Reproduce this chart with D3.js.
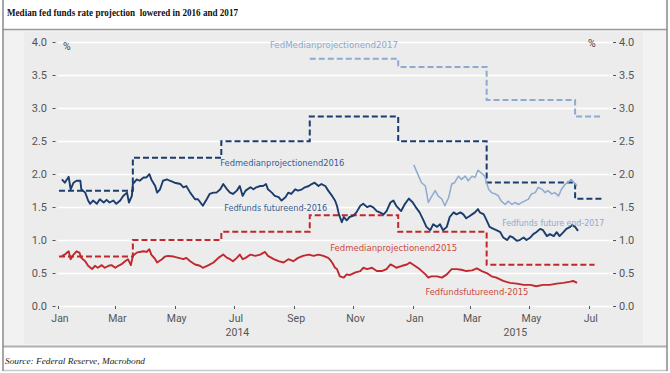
<!DOCTYPE html>
<html><head><meta charset="utf-8">
<script src="https://cdn.jsdelivr.net/npm/d3@7"></script>
<style>body{margin:0;background:#fff} svg{display:block}</style>
</head><body><svg id="c" width="670" height="373"></svg>
<script>
// ---------- DATA ----------
const titleText = "Median fed funds rate projection  lowered in 2016 and 2017";
const sourceText = "Source: Federal Reserve, Macrobond";
const yTicks = [0, 0.5, 1.0, 1.5, 2.0, 2.5, 3.0, 3.5, 4.0];
const xTickDates = ["2014-01-01","2014-03-01","2014-05-01","2014-07-01","2014-09-01","2014-11-01","2015-01-01","2015-03-01","2015-05-01","2015-07-01"];
const xTickLabels = ["Jan","Mar","May","Jul","Sep","Nov","Jan","Mar","May","Jul"];
const yearLabels = ["2014","2015"];
const xDomain = ["2014-01-01","2015-07-27"];

// Fed median projections (step series)
const proj2017 = [["2014-09-17",3.75],["2014-12-17",3.625],["2015-03-18",3.125],["2015-06-17",2.875],["2015-07-15",2.875]];
const proj2016 = [["2014-01-02",1.75],["2014-03-19",2.25],["2014-06-18",2.5],["2014-09-17",2.875],["2014-12-17",2.5],["2015-03-18",1.875],["2015-06-17",1.625],["2015-07-15",1.625]];
const proj2015 = [["2014-01-02",0.75],["2014-03-19",1.0],["2014-06-18",1.125],["2014-09-17",1.375],["2014-12-17",1.125],["2015-03-18",0.625],["2015-06-17",0.625],["2015-07-07",0.625]];

// Fed funds futures implied rates
const fut2016 = [["2014-01-05",1.92],["2014-01-08",1.87],["2014-01-12",1.96],["2014-01-14",1.77],["2014-01-17",1.87],["2014-01-20",1.90],["2014-01-24",1.90],["2014-01-25",1.77],["2014-01-29",1.72],["2014-02-01",1.60],["2014-02-03",1.55],["2014-02-06",1.60],["2014-02-10",1.55],["2014-02-13",1.62],["2014-02-17",1.57],["2014-02-20",1.61],["2014-02-23",1.57],["2014-02-27",1.60],["2014-03-02",1.55],["2014-03-06",1.60],["2014-03-09",1.67],["2014-03-13",1.72],["2014-03-15",1.57],["2014-03-18",1.67],["2014-03-19",1.85],["2014-03-23",1.92],["2014-03-26",1.90],["2014-03-30",1.95],["2014-04-02",1.95],["2014-04-05",2.00],["2014-04-07",1.92],["2014-04-11",1.82],["2014-04-13",1.72],["2014-04-16",1.77],["2014-04-19",1.90],["2014-04-23",1.92],["2014-04-26",1.90],["2014-05-01",1.87],["2014-05-07",1.85],["2014-05-10",1.80],["2014-05-13",1.82],["2014-05-17",1.72],["2014-05-22",1.62],["2014-05-25",1.62],["2014-05-30",1.52],["2014-06-03",1.62],["2014-06-06",1.70],["2014-06-10",1.72],["2014-06-13",1.72],["2014-06-17",1.77],["2014-06-20",1.85],["2014-06-24",1.77],["2014-06-27",1.72],["2014-06-30",1.70],["2014-07-04",1.75],["2014-07-07",1.82],["2014-07-10",1.67],["2014-07-13",1.75],["2014-07-18",1.80],["2014-07-21",1.77],["2014-07-24",1.80],["2014-07-28",1.82],["2014-07-31",1.82],["2014-08-03",1.85],["2014-08-05",1.77],["2014-08-09",1.72],["2014-08-12",1.67],["2014-08-16",1.65],["2014-08-19",1.60],["2014-08-23",1.65],["2014-08-26",1.72],["2014-08-29",1.70],["2014-09-02",1.77],["2014-09-05",1.75],["2014-09-09",1.77],["2014-09-12",1.80],["2014-09-16",1.82],["2014-09-19",1.85],["2014-09-22",1.87],["2014-09-26",1.82],["2014-09-29",1.85],["2014-10-03",1.82],["2014-10-06",1.75],["2014-10-10",1.67],["2014-10-13",1.60],["2014-10-15",1.52],["2014-10-17",1.39],["2014-10-20",1.27],["2014-10-22",1.35],["2014-10-25",1.30],["2014-10-28",1.35],["2014-11-01",1.37],["2014-11-04",1.42],["2014-11-08",1.52],["2014-11-11",1.55],["2014-11-15",1.50],["2014-11-18",1.52],["2014-11-21",1.50],["2014-11-25",1.44],["2014-11-28",1.42],["2014-12-02",1.39],["2014-12-05",1.44],["2014-12-09",1.57],["2014-12-12",1.60],["2014-12-15",1.52],["2014-12-20",1.44],["2014-12-24",1.55],["2014-12-28",1.63],["2015-01-01",1.57],["2015-01-04",1.50],["2015-01-08",1.42],["2015-01-12",1.30],["2015-01-15",1.20],["2015-01-19",1.15],["2015-01-22",1.24],["2015-01-26",1.20],["2015-01-29",1.24],["2015-02-01",1.15],["2015-02-05",1.20],["2015-02-08",1.35],["2015-02-12",1.42],["2015-02-15",1.39],["2015-02-19",1.42],["2015-02-22",1.39],["2015-02-25",1.33],["2015-03-01",1.37],["2015-03-03",1.39],["2015-03-06",1.42],["2015-03-09",1.47],["2015-03-11",1.42],["2015-03-15",1.39],["2015-03-18",1.30],["2015-03-21",1.20],["2015-03-25",1.17],["2015-03-28",1.15],["2015-04-01",1.12],["2015-04-04",1.04],["2015-04-08",1.00],["2015-04-11",1.06],["2015-04-14",1.04],["2015-04-18",0.99],["2015-04-21",1.00],["2015-04-25",1.04],["2015-04-28",1.00],["2015-05-02",1.04],["2015-05-05",1.09],["2015-05-08",1.12],["2015-05-12",1.17],["2015-05-15",1.15],["2015-05-19",1.06],["2015-05-22",1.09],["2015-05-26",1.06],["2015-05-29",1.12],["2015-06-01",1.06],["2015-06-05",1.12],["2015-06-08",1.17],["2015-06-12",1.20],["2015-06-14",1.23],["2015-06-17",1.20],["2015-06-20",1.14]];

const fut2015 = [["2014-01-05",0.76],["2014-01-08",0.78],["2014-01-12",0.83],["2014-01-14",0.71],["2014-01-17",0.78],["2014-01-20",0.83],["2014-01-23",0.81],["2014-01-25",0.73],["2014-01-29",0.68],["2014-02-01",0.61],["2014-02-05",0.56],["2014-02-08",0.61],["2014-02-11",0.58],["2014-02-15",0.62],["2014-02-18",0.58],["2014-02-22",0.61],["2014-02-25",0.62],["2014-03-01",0.58],["2014-03-04",0.61],["2014-03-07",0.63],["2014-03-11",0.68],["2014-03-14",0.71],["2014-03-17",0.62],["2014-03-19",0.76],["2014-03-23",0.81],["2014-03-26",0.82],["2014-03-30",0.83],["2014-04-02",0.82],["2014-04-05",0.86],["2014-04-07",0.78],["2014-04-11",0.71],["2014-04-13",0.66],["2014-04-18",0.71],["2014-04-21",0.75],["2014-04-24",0.76],["2014-04-30",0.75],["2014-05-05",0.73],["2014-05-10",0.71],["2014-05-13",0.73],["2014-05-17",0.68],["2014-05-22",0.63],["2014-05-27",0.61],["2014-05-30",0.58],["2014-06-05",0.62],["2014-06-10",0.66],["2014-06-15",0.73],["2014-06-20",0.78],["2014-06-24",0.73],["2014-06-27",0.71],["2014-06-30",0.68],["2014-07-04",0.73],["2014-07-07",0.78],["2014-07-10",0.71],["2014-07-13",0.73],["2014-07-18",0.78],["2014-07-23",0.76],["2014-07-28",0.78],["2014-08-02",0.82],["2014-08-05",0.76],["2014-08-11",0.71],["2014-08-16",0.68],["2014-08-21",0.66],["2014-08-26",0.71],["2014-08-31",0.68],["2014-09-05",0.73],["2014-09-10",0.76],["2014-09-16",0.78],["2014-09-21",0.76],["2014-09-26",0.78],["2014-10-01",0.76],["2014-10-06",0.73],["2014-10-08",0.70],["2014-10-10",0.66],["2014-10-13",0.58],["2014-10-15",0.56],["2014-10-18",0.45],["2014-10-22",0.43],["2014-10-25",0.48],["2014-10-28",0.47],["2014-11-03",0.51],["2014-11-08",0.53],["2014-11-11",0.58],["2014-11-15",0.56],["2014-11-20",0.58],["2014-11-25",0.53],["2014-11-30",0.53],["2014-12-05",0.56],["2014-12-09",0.63],["2014-12-12",0.61],["2014-12-15",0.58],["2014-12-21",0.61],["2014-12-26",0.63],["2014-12-29",0.66],["2015-01-03",0.61],["2015-01-08",0.56],["2015-01-14",0.48],["2015-01-17",0.43],["2015-01-20",0.45],["2015-01-26",0.45],["2015-01-31",0.43],["2015-02-05",0.48],["2015-02-10",0.56],["2015-02-15",0.56],["2015-02-20",0.55],["2015-02-25",0.53],["2015-03-03",0.54],["2015-03-08",0.57],["2015-03-13",0.53],["2015-03-18",0.50],["2015-03-23",0.45],["2015-03-28",0.43],["2015-04-04",0.38],["2015-04-11",0.35],["2015-04-18",0.34],["2015-04-25",0.32],["2015-05-02",0.32],["2015-05-08",0.30],["2015-05-15",0.32],["2015-05-22",0.32],["2015-05-29",0.34],["2015-06-05",0.35],["2015-06-12",0.37],["2015-06-15",0.38],["2015-06-19",0.35]];

const fut2017 = [["2015-01-02",2.14],["2015-01-07",1.97],["2015-01-10",1.87],["2015-01-14",1.82],["2015-01-17",1.57],["2015-01-20",1.65],["2015-01-24",1.75],["2015-01-27",1.67],["2015-01-31",1.62],["2015-02-03",1.52],["2015-02-07",1.65],["2015-02-10",1.85],["2015-02-13",1.87],["2015-02-17",1.97],["2015-02-20",1.92],["2015-02-24",1.97],["2015-02-27",1.90],["2015-03-03",1.97],["2015-03-06",1.95],["2015-03-09",2.06],["2015-03-13",2.01],["2015-03-16",1.97],["2015-03-20",1.77],["2015-03-23",1.72],["2015-03-27",1.70],["2015-03-30",1.67],["2015-04-02",1.59],["2015-04-06",1.54],["2015-04-09",1.59],["2015-04-13",1.54],["2015-04-16",1.57],["2015-04-20",1.54],["2015-04-23",1.57],["2015-04-26",1.59],["2015-04-30",1.62],["2015-05-03",1.70],["2015-05-07",1.72],["2015-05-10",1.80],["2015-05-14",1.77],["2015-05-17",1.72],["2015-05-20",1.75],["2015-05-24",1.70],["2015-05-27",1.72],["2015-05-31",1.67],["2015-06-03",1.77],["2015-06-07",1.85],["2015-06-10",1.88],["2015-06-13",1.92],["2015-06-16",1.87],["2015-06-19",1.82]];

const seriesLabels = [
  {text:"FedMedianprojectionend2017", date:"2014-08-07", value:3.96, w:128, color:"#8eaad0"},
  {text:"Fedmedianprojectionend2016", date:"2014-06-17", value:2.18, w:124, color:"#2f5f9e"},
  {text:"Fedfunds futureend-2016", date:"2014-06-21", value:1.49, w:103, color:"#35598c"},
  {text:"Fedmedianprojectionend2015", date:"2014-10-08", value:0.89, w:127, color:"#cc4a40"},
  {text:"Fedfundsfutureend-2015", date:"2015-01-14", value:0.22, w:103, color:"#cc4a40"},
  {text:"Fedfunds future end-2017", date:"2015-04-03", value:1.27, w:102, color:"#8eaad0"}
];

// ---------- DRAW ----------
const parse = d3.utcParse("%Y-%m-%d");
const svg = d3.select("#c");
const W = 670, H = 373;

svg.append("rect").attr("x",0).attr("y",0).attr("width",W).attr("height",H).attr("fill","#fff");
// panel
svg.append("rect").attr("x",3).attr("y",30).attr("width",664).attr("height",316).attr("fill","#f2f2f2");
svg.append("rect").attr("x",24).attr("y",32).attr("width",619).attr("height",312).attr("fill","#ececec");
// frame lines
svg.append("line").attr("x1",3).attr("x2",667).attr("y1",29.5).attr("y2",29.5).attr("stroke","#9a9a9a").attr("stroke-width",1.5);
svg.append("line").attr("x1",3).attr("x2",667).attr("y1",346.5).attr("y2",346.5).attr("stroke","#b0b0b0").attr("stroke-width",2);
svg.append("line").attr("x1",3).attr("x2",667).attr("y1",370.5).attr("y2",370.5).attr("stroke","#c8c8c8").attr("stroke-width",1.5);
svg.append("line").attr("x1",3).attr("x2",3).attr("y1",0).attr("y2",371).attr("stroke","#8a8a8a").attr("stroke-width",1.5);
svg.append("line").attr("x1",667).attr("x2",667).attr("y1",0).attr("y2",371).attr("stroke","#8a8a8a").attr("stroke-width",1.5);

svg.append("text").attr("x",7).attr("y",15.5).text(titleText)
  .attr("font-family","'Liberation Serif','Times New Roman',serif").attr("font-weight","bold")
  .attr("font-size",10.5).attr("fill","#111").attr("textLength",231).attr("lengthAdjust","spacingAndGlyphs")
  .style("white-space","pre");
svg.append("text").attr("x",5).attr("y",364).text(sourceText)
  .attr("font-family","'Liberation Serif','Times New Roman',serif").attr("font-style","italic")
  .attr("font-size",8.5).attr("fill","#222").attr("textLength",140).attr("lengthAdjust","spacingAndGlyphs");

const x = d3.scaleUtc().domain(xDomain.map(parse)).range([58, 614]);
const y = d3.scaleLinear().domain([0, 4]).range([306, 42.3]);
const fmt = d3.format(".1f");
const axisFont = "Roboto, 'DejaVu Sans', sans-serif";
const axisColor = "#555";

// grid
svg.append("g").selectAll("line").data(yTicks).join("line")
  .attr("x1", x.range()[0]).attr("x2", x.range()[1])
  .attr("y1", d => Math.round(y(d)) + 0.5).attr("y2", d => Math.round(y(d)) + 0.5)
  .attr("stroke", "#fff").attr("stroke-width", 1.3);

// left axis
const gl = svg.append("g");
gl.selectAll("line").data(yTicks).join("line")
  .attr("x1",52.5).attr("x2",55.5).attr("y1",d=>Math.round(y(d))+0.5).attr("y2",d=>Math.round(y(d))+0.5)
  .attr("stroke",axisColor).attr("stroke-width",1);
gl.selectAll("text").data(yTicks).join("text")
  .attr("x",47).attr("y",d=>y(d)+4).attr("text-anchor","end").text(fmt)
  .attr("font-family",axisFont).attr("font-size",11).attr("fill",axisColor);
svg.append("text").attr("x",63).attr("y",49.5).text("%").attr("font-family",axisFont).attr("font-size",10.5).attr("fill","#444");

// right axis
const gr = svg.append("g");
gr.selectAll("line").data(yTicks).join("line")
  .attr("x1",613).attr("x2",616).attr("y1",d=>Math.round(y(d))+0.5).attr("y2",d=>Math.round(y(d))+0.5)
  .attr("stroke",axisColor).attr("stroke-width",1);
gr.selectAll("text").data(yTicks).join("text")
  .attr("x",619).attr("y",d=>y(d)+4).attr("text-anchor","start").text(fmt)
  .attr("font-family",axisFont).attr("font-size",11).attr("fill",axisColor);
svg.append("text").attr("x",588).attr("y",46.5).text("%").attr("font-family",axisFont).attr("font-size",10.5).attr("fill","#444");

// x axis
const xt = xTickDates.map(parse);
const gx = svg.append("g");
gx.selectAll("line").data(xt).join("line")
  .attr("x1",d=>Math.round(x(d))+0.5).attr("x2",d=>Math.round(x(d))+0.5).attr("y1",306).attr("y2",309)
  .attr("stroke",axisColor).attr("stroke-width",1);
gx.selectAll("text").data(xt).join("text")
  .attr("x",d=>x(d)+2).attr("y",322).attr("text-anchor","middle").text((d,i)=>xTickLabels[i])
  .attr("font-family",axisFont).attr("font-size",10.5).attr("fill",axisColor);
const yearMid = [
  new Date((parse("2014-01-01").getTime()+parse("2015-01-01").getTime())/2),
  new Date((parse("2015-01-01").getTime()+x.domain()[1].getTime())/2)
];
gx.selectAll("text.yr").data(yearLabels).join("text").attr("class","yr")
  .attr("x",(d,i)=>x(yearMid[i])+2).attr("y",336).attr("text-anchor","middle").text(d=>d)
  .attr("font-family",axisFont).attr("font-size",10.5).attr("fill",axisColor);

// lines
const toPts = arr => arr.map(d => [parse(d[0]), d[1]]);
const stepLine = d3.line().x(d=>x(d[0])).y(d=>y(d[1])).curve(d3.curveStepAfter);
const line = d3.line().x(d=>x(d[0])).y(d=>y(d[1]));

const g = svg.append("g");
g.append("path").attr("d", stepLine(toPts(proj2017))).attr("fill","none").attr("stroke","#8eaad0").attr("stroke-width",2).attr("stroke-dasharray","6,3");
g.append("path").attr("d", stepLine(toPts(proj2016))).attr("fill","none").attr("stroke","#1b3d6e").attr("stroke-width",2).attr("stroke-dasharray","6,3");
g.append("path").attr("d", stepLine(toPts(proj2015))).attr("fill","none").attr("stroke","#c0282d").attr("stroke-width",2).attr("stroke-dasharray","6,3");
g.append("path").attr("d", line(toPts(fut2017))).attr("fill","none").attr("stroke","#8eaad0").attr("stroke-width",1.5).attr("stroke-linejoin","round");
g.append("path").attr("d", line(toPts(fut2015))).attr("fill","none").attr("stroke","#c0282d").attr("stroke-width",1.9).attr("stroke-linejoin","round");
g.append("path").attr("d", line(toPts(fut2016))).attr("fill","none").attr("stroke","#1b3d6e").attr("stroke-width",1.9).attr("stroke-linejoin","round");

// series labels
svg.append("g").selectAll("text").data(seriesLabels).join("text")
  .attr("x",d=>x(parse(d.date))).attr("y",d=>y(d.value)+3.5).text(d=>d.text)
  .attr("font-family","'DejaVu Sans Condensed','Liberation Sans Narrow',Roboto,sans-serif")
  .attr("font-size",9.5).attr("fill",d=>d.color)
  .attr("textLength",d=>d.w).attr("lengthAdjust","spacingAndGlyphs");
</script></body></html>
